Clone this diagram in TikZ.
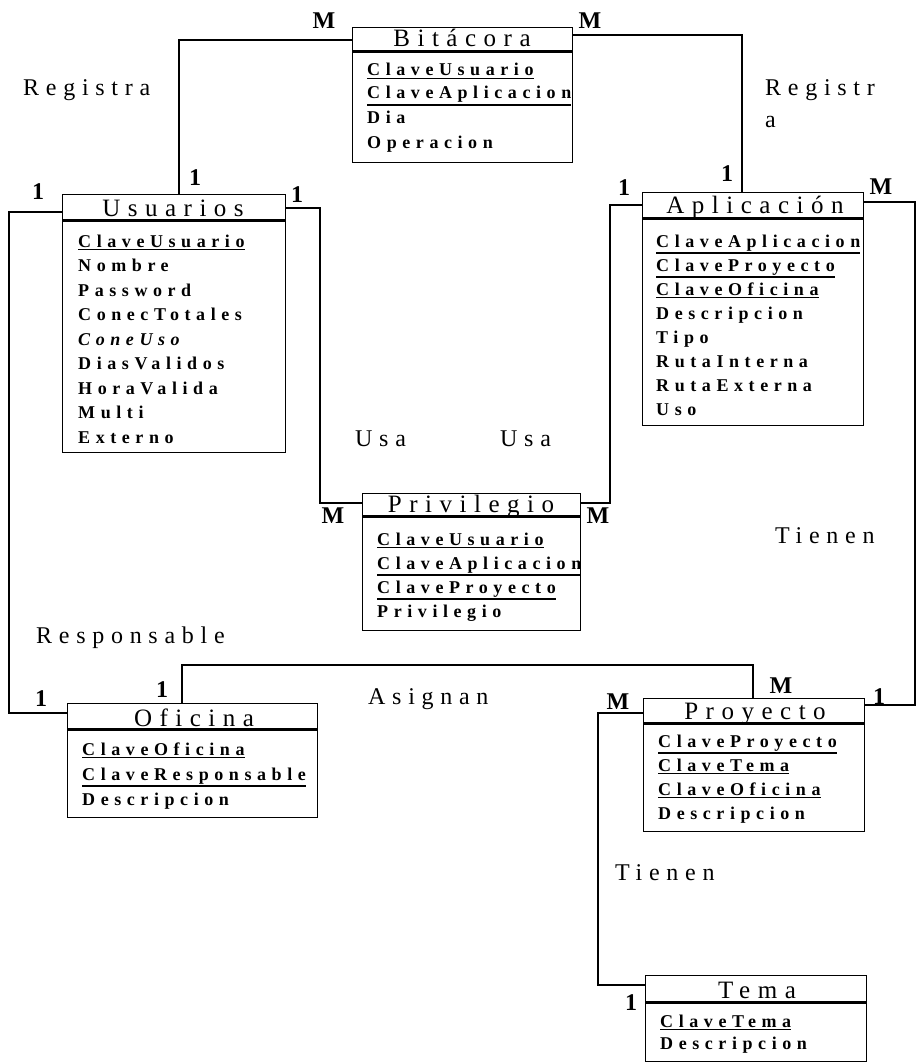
\documentclass[tikz,border=0pt]{standalone}
\usepackage{fontspec}
\setmainfont{Liberation Serif}
\newfontfamily\ttlfont{Liberation Serif}[LetterSpace=30]
\newfontfamily\relfont{Liberation Serif}[LetterSpace=28]
\newfontfamily\attfont{Liberation Serif}[LetterSpace=31]
% key attribute: text with a rule set just below its depth
\newcommand\keyattr[1]{\setbox0=\hbox{#1}\vtop{\copy0\kern1.5pt\hrule height 1.7pt width\wd0}}

\begin{document}
\begin{tikzpicture}[x=1pt,y=-1pt,
  entbox/.style={draw, line width=1.4pt, anchor=north west, inner sep=0pt},
  hdr/.style={line width=3pt},
  ttl/.style={font=\fontsize{25}{28}\selectfont\ttlfont, anchor=base, inner sep=0pt},
  att/.style={font=\fontsize{18}{21}\selectfont\attfont\bfseries, anchor=base west, inner sep=0pt},
  card/.style={font=\fontsize{24}{26}\selectfont\bfseries, inner sep=0pt},
  rel/.style={font=\fontsize{24}{32}\selectfont\relfont, anchor=base west, inner sep=0pt, align=left},
  link/.style={line width=1.5pt}]
\useasboundingbox (0,0) rectangle (920,1062);

% ---------------- Bitacora
\node[entbox, minimum width=220pt, minimum height=135pt] (bit) at (352,27) {};
\draw[hdr] (bit.north west) ++(0,25) -- ++(220,0);
\node[ttl] (bitT) at (462,47) {Bitácora};
\node[att] (bit1) at (367,76) {\keyattr{ClaveUsuario}};
\node[att] (bit2) at (367,99) {\keyattr{ClaveAplicacion}};
\node[att] (bit3) at (367,124) {Dia};
\node[att] (bit4) at (367,148) {Operacion};

% ---------------- Usuarios
\node[entbox, minimum width=223pt, minimum height=258pt] (usu) at (62,194) {};
\draw[hdr] (usu.north west) ++(0,26) -- ++(223,0);
\node[ttl] (usuT) at (173,216) {Usuarios};
\node[att] (usu1) at (78,247) {\keyattr{ClaveUsuario}};
\node[att] (usu2) at (78,271.5) {Nombre};
\node[att] (usu3) at (78,296) {Password};
\node[att] (usu4) at (78,320.5) {ConecTotales};
\node[att] (usu5) at (78,345) {\itshape ConeUso};
\node[att] (usu6) at (78,369.5) {DiasValidos};
\node[att] (usu7) at (78,394) {HoraValida};
\node[att] (usu8) at (78,418.5) {Multi};
\node[att] (usu9) at (78,443) {Externo};

% ---------------- Aplicacion
\node[entbox, minimum width=221pt, minimum height=233pt] (apl) at (642,192) {};
\draw[hdr] (apl.north west) ++(0,26) -- ++(221,0);
\node[ttl] (aplT) at (755,213) {Aplicación};
\node[att] (apl1) at (656,247) {\keyattr{ClaveAplicacion}};
\node[att] (apl2) at (656,271) {\keyattr{ClaveProyecto}};
\node[att] (apl3) at (656,295) {\keyattr{ClaveOficina}};
\node[att] (apl4) at (656,319) {Descripcion};
\node[att] (apl5) at (656,343) {Tipo};
\node[att] (apl6) at (656,367) {RutaInterna};
\node[att] (apl7) at (656,391) {RutaExterna};
\node[att] (apl8) at (656,415) {Uso};

% ---------------- Privilegio
\node[entbox, minimum width=218pt, minimum height=137pt] (pri) at (362,493) {};
\draw[hdr] (pri.north west) ++(0,23) -- ++(218,0);
\node[ttl] (priT) at (471,512) {Privilegio};
\node[att] (pri1) at (377,545) {\keyattr{ClaveUsuario}};
\node[att] (pri2) at (377,569) {\keyattr{ClaveAplicacion}};
\node[att] (pri3) at (377,593) {\keyattr{ClaveProyecto}};
\node[att] (pri4) at (377,617) {Privilegio};

% ---------------- Oficina
\node[entbox, minimum width=250pt, minimum height=114pt] (ofi) at (67,703) {};
\draw[hdr] (ofi.north west) ++(0,26) -- ++(250,0);
\node[ttl] (ofiT) at (194,726) {Oficina};
\node[att] (ofi1) at (82,755) {\keyattr{ClaveOficina}};
\node[att] (ofi2) at (82,780) {\keyattr{ClaveResponsable}};
\node[att] (ofi3) at (82,805) {Descripcion};

% ---------------- Proyecto
\node[entbox, minimum width=221pt, minimum height=133pt] (pro) at (643,698) {};
\draw[hdr] (pro.north west) ++(0,25) -- ++(221,0);
\node[ttl] (proT) at (755,719) {Proyecto};
\node[att] (pro1) at (658,747) {\keyattr{ClaveProyecto}};
\node[att] (pro2) at (658,771) {\keyattr{ClaveTema}};
\node[att] (pro3) at (658,795) {\keyattr{ClaveOficina}};
\node[att] (pro4) at (658,819) {Descripcion};

% ---------------- Tema
\node[entbox, minimum width=221pt, minimum height=86pt] (tem) at (645,975) {};
\draw[hdr] (tem.north west) ++(0,27) -- ++(221,0);
\node[ttl] (temT) at (757,998) {Tema};
\node[att] (tem1) at (660,1027) {\keyattr{ClaveTema}};
\node[att] (tem2) at (660,1049) {Descripcion};

% ---------------- connector bends
\coordinate (r1) at (179,40);
\coordinate (r2) at (742,35);
\coordinate (r3a) at (9,212);
\coordinate (r3b) at (9,713);
\coordinate (r4a) at (320,208);
\coordinate (r4b) at (320,503);
\coordinate (r5a) at (610,205);
\coordinate (r5b) at (610,503);
\coordinate (r6a) at (915,202);
\coordinate (r6b) at (915,705);
\coordinate (r7a) at (182,665);
\coordinate (r7b) at (753,665);
\coordinate (r8a) at (598,713);
\coordinate (r8b) at (598,985);

% ---------------- connectors
\draw[link] (bit.west |- r1) -- (r1) -- (usu.north -| r1);
\draw[link] (bit.east |- r2) -- (r2) -- (apl.north -| r2);
\draw[link] (usu.west |- r3a) -- (r3a) -- (r3b) -- (ofi.west |- r3b);
\draw[link] (usu.east |- r4a) -- (r4a) -- (r4b) -- (pri.west |- r4b);
\draw[link] (apl.west |- r5a) -- (r5a) -- (r5b) -- (pri.east |- r5b);
\draw[link] (apl.east |- r6a) -- (r6a) -- (r6b) -- (pro.east |- r6b);
\draw[link] (ofi.north -| r7a) -- (r7a) -- (r7b) -- (pro.north -| r7b);
\draw[link] (pro.west |- r8a) -- (r8a) -- (r8b) -- (tem.west |- r8b);

% ---------------- cardinalities
\node[card] (c1) at (324,21) {M};
\node[card] (c2) at (590,21) {M};
\node[card] (c3) at (195,178) {1};
\node[card] (c4) at (727,174) {1};
\node[card] (c5) at (38,192) {1};
\node[card] (c6) at (297,195) {1};
\node[card] (c7) at (624,188) {1};
\node[card] (c8) at (881,187) {M};
\node[card] (c9) at (333,516) {M};
\node[card] (c10) at (598,516) {M};
\node[card] (c11) at (41,699) {1};
\node[card] (c12) at (162,690) {1};
\node[card] (c13) at (618,702) {M};
\node[card] (c14) at (781,686) {M};
\node[card] (c15) at (879,697) {1};
\node[card] (c16) at (631,1003) {1};

% ---------------- relationship names
\node[rel] (l1) at (23,96) {Registra};
\node[rel, anchor=north west] (l2) at (765,79) {Registr\\a};
\node[rel] (l3) at (355,446) {Usa};
\node[rel] (l4) at (500,446) {Usa};
\node[rel] (l5) at (775,543) {Tienen};
\node[rel] (l6) at (36,643) {Responsable};
\node[rel] (l7) at (368,704) {Asignan};
\node[rel] (l8) at (615,880) {Tienen};
\end{tikzpicture}
\end{document}
